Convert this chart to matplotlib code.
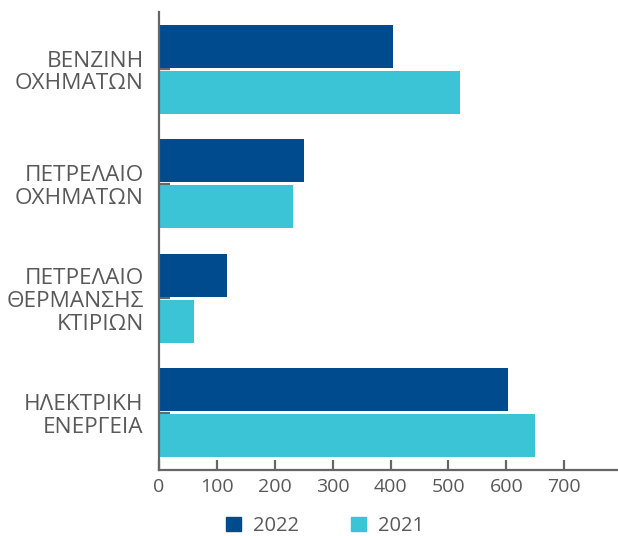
import matplotlib
matplotlib.use("Agg")
import matplotlib.pyplot as plt
import numpy as np
from matplotlib.patches import Patch

categories = ["ΒΕΝΖΙΝΗ\nΟΧΗΜΑΤΩΝ", "ΠΕΤΡΕΛΑΙΟ\nΟΧΗΜΑΤΩΝ", "ΠΕΤΡΕΛΑΙΟ\nΘΕΡΜΑΝΣΗΣ\nΚΤΙΡΙΩΝ", "ΗΛΕΚΤΡΙΚΗ\nΕΝΕΡΓΕΙΑ"]
values_2022 = [405, 250, 118, 603]
values_2021 = [520, 232, 61, 650]
series_labels = ["2022", "2021"]
xticks = [0, 100, 200, 300, 400, 500, 600, 700]

c2022 = "#004a8e"
c2021 = "#3bc3d6"
gray = "#666666"
text_gray = "#595959"

plt.rcParams['font.family'] = ['Open Sans', 'DejaVu Sans']

fig = plt.figure(figsize=(6.18, 5.36), dpi=100)
ax = fig.add_axes([159/618, 1-470/536, 1-159/618, (470-12)/536])

y = np.arange(len(categories))
h = 0.375
off = 0.2
ax.barh(y - off, values_2022, height=h, color=c2022, zorder=2)
ax.barh(y + off, values_2021, height=h, color=c2021, zorder=2)

ax.set_ylim(3.5, -0.5)
ax.set_xlim(0, 793)
ax.set_yticks(y)
ax.set_yticklabels(categories, fontsize=16.2, color=text_gray, linespacing=1.1)
ax.set_xticks(xticks)
ax.set_xticklabels([str(v) for v in xticks], fontsize=14, color=text_gray)

for s in ["top", "right"]:
    ax.spines[s].set_visible(False)
for s in ["left", "bottom"]:
    ax.spines[s].set_color(gray)
    ax.spines[s].set_linewidth(1.6)
ax.tick_params(axis='y', direction='in', length=8, width=1.6, color=gray, pad=11)
ax.tick_params(axis='x', direction='in', length=7, width=1.6, color=gray, pad=6)

handles = [Patch(color=c2022, label=series_labels[0]), Patch(color=c2021, label=series_labels[1])]
leg = fig.legend(handles=handles, loc='center', bbox_to_anchor=(325/618, 1-526/536), ncol=2,
                 frameon=False, fontsize=14.5, handlelength=0.75, handleheight=0.75,
                 columnspacing=2.6, handletextpad=0.6)
for t in leg.get_texts():
    t.set_color(text_gray)

fig.savefig("out.png", dpi=100)
